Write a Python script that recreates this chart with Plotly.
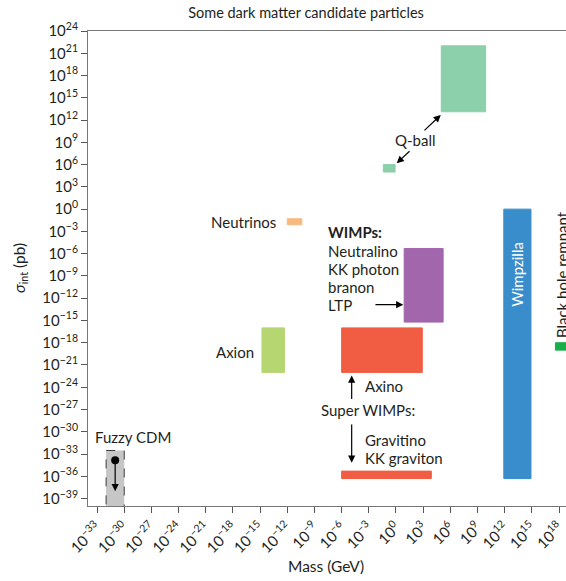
import plotly.graph_objects as go

# ---- data: mass (GeV) and interaction cross-section (pb) ranges per candidate ----
candidates = ["Q-ball (large)", "Q-ball (small)", "Neutrinos", "WIMPs", "Wimpzilla",
              "Black hole remnant", "Axion", "Axino", "Gravitino", "Fuzzy CDM"]
mass_lo = [1e5, 0.04, 1e-12, 8.0, 8e11, 4e17, 1.6e-15, 1e-6, 1e-6, 1e-32]
mass_hi = [8e9, 0.8, 4e-11, 1.6e5, 8e14, 1e19, 5e-13, 8e2, 8e3, 1e-30]
sigma_lo = [1.3e13, 1e5, 8e-3, 6e-16, 5e-37, 1e-19, 1e-22, 1e-22, 5e-37, 1e-41]
sigma_hi = [1e22, 1e6, 5e-2, 5e-6, 1.0, 1e-18, 1e-16, 1e-16, 5e-36, 3e-33]
colors = ["#8ccfab", "#8ccfab", "#f7b97d", "#a266ad", "#3a8dcb",
          "#1aae4a", "#b6d672", "#f15d42", "#f15d42", "#c6c6c6"]

fuzzy_point_mass = 1e-31
fuzzy_point_sigma = 1.5e-34

x_tick_exps = list(range(-33, 19, 3))
y_tick_exps = list(range(-39, 25, 3))
x_tick_text = [f"10<sup>{e}</sup>".replace("-", "\u2212") for e in x_tick_exps]
y_tick_text = [f"10<sup>{e}</sup>".replace("-", "\u2212") for e in y_tick_exps]

FONT = "Lato"
TXT = "#231f20"
SIZE = 15

fig = go.Figure()

for name, x0, x1, y0, y1, c in zip(candidates, mass_lo, mass_hi, sigma_lo, sigma_hi, colors):
    dashed = name == "Fuzzy CDM"
    fig.add_trace(go.Scatter(
        x=[x0, x1, x1, x0, x0], y=[y0, y0, y1, y1, y0],
        mode="lines", fill="toself", fillcolor=c,
        line=dict(color="#3c3c3c" if dashed else c, width=1,
                  dash="dash" if dashed else "solid"),
        name=name, hoverinfo="name", showlegend=False,
    ))

fig.add_trace(go.Scatter(
    x=[fuzzy_point_mass], y=[fuzzy_point_sigma], mode="markers",
    marker=dict(color="black", size=8), showlegend=False, hoverinfo="skip",
))

annotations = []


def label(x, y, text, xanchor="left", **kw):
    d = dict(x=x, y=y, xref="x", yref="y", text=text, showarrow=False,
             xanchor=xanchor, yanchor="middle",
             font=dict(family=FONT, size=SIZE, color=TXT))
    d.update(kw)
    annotations.append(d)


def arrow(x_tail, y_tail, x_head, y_head):
    annotations.append(dict(
        x=x_head, y=y_head, ax=x_tail, ay=y_tail, xref="x", yref="y",
        axref="x", ayref="y", text="", showarrow=True, arrowhead=2,
        arrowsize=1.2, arrowwidth=1.2, arrowcolor="black", standoff=0,
    ))


# annotation positions are in log10 units of each axis
label(2.18, 9.33, "Q-ball", xanchor="center")
arrow(2.98, 10.41, 4.94, 12.69)
arrow(1.66, 7.98, 0.08, 6.19)

label(-13.0, -1.67, "Neutrinos", xanchor="right")

label(-7.76, -3.09, "<b>WIMPs:</b>")
label(-7.76, -5.61, "Neutralino")
label(-7.76, -8.03, "KK photon")
label(-7.76, -10.49, "branon")
label(-7.76, -12.88, "LTP")
arrow(-2.43, -12.88, 0.81, -12.88)

label(13.36, -8.84, "Wimpzilla", xanchor="center", textangle=-90,
      font=dict(family=FONT, size=SIZE, color="white"))
label(18.32, -17.59, "Black hole remnant", xanchor="center", yanchor="bottom",
      textangle=-90)

label(-15.45, -19.24, "Axion", xanchor="right")
label(-3.61, -23.87, "Axino")
label(-3.06, -27.01, "Super WIMPs:", xanchor="center")
label(-3.61, -31.05, "Gravitino")
label(-3.61, -33.51, "KK graviton")
arrow(-4.89, -25.80, -4.89, -22.43)
arrow(-4.89, -28.80, -4.89, -34.18)

label(-33.44, -30.68, "Fuzzy CDM")
arrow(-31.0, -33.83, -31.0, -38.0)

# axis titles
annotations.append(dict(
    x=(326 - 88) / 478, y=-(566 - 506) / 475, xref="paper", yref="paper",
    text="Mass (GeV)", showarrow=False, xanchor="center", yanchor="middle",
    font=dict(family=FONT, size=15.5, color=TXT),
))
annotations.append(dict(
    x=(20 - 88) / 478, y=(506 - 268) / 475, xref="paper", yref="paper",
    text="<i>σ</i><sub>int</sub> (pb)", showarrow=False, textangle=-90,
    xanchor="center", yanchor="middle",
    font=dict(family=FONT, size=15.5, color=TXT),
))

fig.update_layout(
    width=566, height=581,
    margin=dict(l=88, r=0, t=31, b=75),
    paper_bgcolor="white", plot_bgcolor="white",
    font=dict(family=FONT, size=SIZE, color=TXT),
    title=dict(text="Some dark matter candidate particles", x=306 / 566,
               xref="container", y=1 - 13 / 581, yref="container",
               xanchor="center", yanchor="middle",
               font=dict(family=FONT, size=14.5, color=TXT)),
    annotations=annotations,
    showlegend=False,
)

fig.update_xaxes(
    type="log", range=[-34, 18.77],
    tickvals=[10.0 ** e for e in x_tick_exps], ticktext=x_tick_text,
    tickangle=-45, ticks="outside", ticklen=6, tickcolor="#555",
    tickfont=dict(family=FONT, size=SIZE, color=TXT),
    ticklabeloverflow="allow",
    showline=True, linecolor="#777", linewidth=1, mirror=True,
    showgrid=False, zeroline=False,
)

fig.update_yaxes(
    type="log", range=[-40, 24],
    tickvals=[10.0 ** e for e in y_tick_exps], ticktext=y_tick_text,
    ticks="outside", ticklen=6, tickcolor="#555",
    tickfont=dict(family=FONT, size=SIZE, color=TXT),
    showline=True, linecolor="#777", linewidth=1,
    showgrid=False, zeroline=False,
)

fig.write_html("out.html")
